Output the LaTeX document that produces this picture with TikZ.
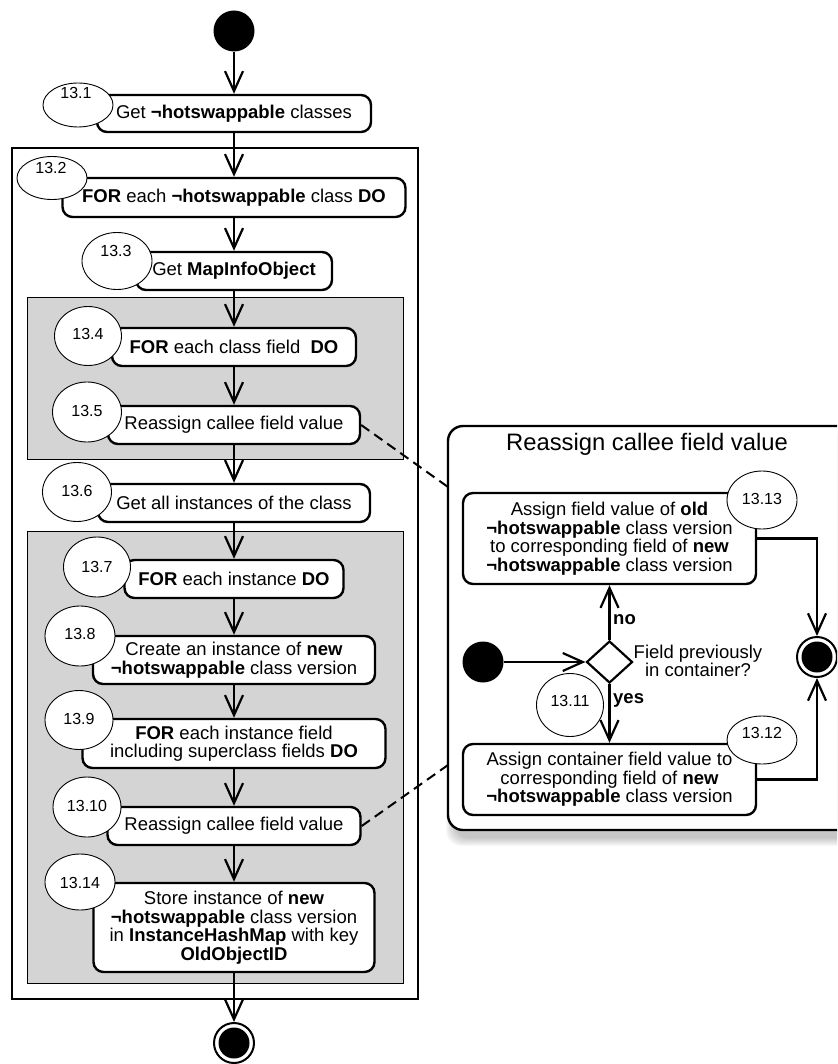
\documentclass[tikz,border=0pt]{standalone}
\usepackage{fontspec}
\setmainfont{Liberation Sans}
\usetikzlibrary{arrows.meta,shapes.geometric}
\definecolor{loopgray}{RGB}{212,212,212}
\begin{document}
\begin{tikzpicture}[x=1pt,y=-1pt,
  txt/.style={font=\fontsize{18.5}{18.5}\selectfont},
  sz/.style 2 args={minimum width=#1pt, minimum height=#2pt},
  box/.style={txt, draw, line width=2.4pt, rounded corners=10pt, fill=white, align=center, inner sep=0pt},
  num/.style={draw, ellipse, line width=0.9pt, fill=white, inner sep=0pt},
  numtxt/.style={font=\fontsize{16}{16}\selectfont, inner sep=0pt},
  flow/.style={line width=2.4pt, -{Straight Barb[length=20pt,width=18pt,line width=2.2pt]}},
  link/.style={line width=2pt, dash pattern=on 10pt off 6pt},
  startdot/.style={circle, fill=black, minimum size=41pt, inner sep=0pt},
  endring/.style={circle, draw, line width=2pt, fill=white, minimum size=40pt, inner sep=0pt},
  enddot/.style={circle, fill=black, minimum size=31pt, inner sep=0pt},
  loopbox/.style={draw, line width=1pt, fill=loopgray},
  decision/.style={diamond, draw, line width=2.2pt, fill=white, inner sep=0pt, minimum width=46pt, minimum height=42pt}]

\useasboundingbox (0,0) rectangle (837,1064);
\clip (0,0) rectangle (837,1064);

% outer loop frame and the two nested loop regions
\draw[line width=1.1pt] (12,148) rectangle (418,999);
\draw[loopbox] (27,297) rectangle (403,459);
\draw[loopbox] (27,531) rectangle (403,983);

% main flow
\node[startdot] (s0) at (234,31) {};
\node[box, sz={274}{37}] (b1) at (234,113.5) {Get \textbf{¬hotswappable} classes};
\node[box, sz={343}{39}] (b2) at (234,197.5) {\textbf{FOR} each \textbf{¬hotswappable} class \textbf{DO}};
\node[box, sz={196}{38}] (b3) at (234,271) {Get \textbf{MapInfoObject}};
\node[box, sz={244}{38}] (b4) at (234,347) {\textbf{FOR} each class field\ \ \textbf{DO}};
\node[box, sz={252}{38}] (b5) at (234,425) {Reassign callee field value};
\node[box, sz={272}{38}] (b6) at (234,503) {Get all instances of the class};
\node[box, sz={219}{38}] (b7) at (234,579) {\textbf{FOR} each instance \textbf{DO}};
\node[box, sz={282}{48}] (b8) at (234,660) {Create an instance of \textbf{new}\\\textbf{¬hotswappable} class version};
\node[box, sz={303}{49}] (b9) at (234,743.5) {\textbf{FOR} each instance field\\including superclass fields \textbf{DO}};
\node[box, sz={253}{38}] (b10) at (234,826) {Reassign callee field value};
\node[box, sz={281}{89}] (b14) at (234,927.5) {Store instance of \textbf{new}\\\textbf{¬hotswappable} class version\\in \textbf{InstanceHashMap} with key\\\textbf{OldObjectID}};
\node[endring] (f1) at (234,1043) {};
\node[enddot] (f1i) at (f1) {};

\draw[flow] (s0) -- (b1.north);
\draw[flow] (b1) -- (b2.north);
\draw[flow] (b2) -- (b3.north);
\draw[flow] (b3) -- (b4.north);
\draw[flow] (b4) -- (b5.north);
\draw[flow] (b5) -- (b6.north);
\draw[flow] (b6) -- (b7.north);
\draw[flow] (b7) -- (b8.north);
\draw[flow] (b8) -- (b9.north);
\draw[flow] (b9) -- (b10.north);
\draw[flow] (b10) -- (b14.north);
\draw[flow] (b14) -- (f1.north);

% step numbers
\node[num, sz={70}{44}] (e1) at (78,105) {};
\node[numtxt] (n1) at (76,93) {13.1};
\node[num, sz={70}{43}] (e2) at (52,178) {};
\node[numtxt] (n2) at (51,168) {13.2};
\node[num, sz={70}{57}] (e3) at (117,261) {};
\node[numtxt] (n3) at (116,251) {13.3};
\node[num, sz={67}{59}] (e4) at (88,336) {};
\node[numtxt] (n4) at (88,334) {13.4};
\node[num, sz={69}{60}] (e5) at (87,412) {};
\node[numtxt] (n5) at (87,411) {13.5};
\node[num, sz={69}{59}] (e6) at (77,492) {};
\node[numtxt] (n6) at (77,491) {13.6};
\node[num, sz={67}{60}] (e7) at (97,567) {};
\node[numtxt] (n7) at (97,567) {13.7};
\node[num, sz={70}{60}] (e8) at (80,636) {};
\node[numtxt] (n8) at (80,634) {13.8};
\node[num, sz={68}{59}] (e9) at (79,720) {};
\node[numtxt] (n9) at (79,719) {13.9};
\node[num, sz={68}{60}] (e10) at (87,807) {};
\node[numtxt] (n10) at (87,806) {13.10};
\node[num, sz={70}{56}] (e14) at (80,882) {};
\node[numtxt] (n14) at (80,883) {13.14};

% detail panel with its soft shadow
\foreach \i in {1,...,9}
  \fill[black, opacity=0.028, rounded corners=15pt] (455-\i,436-\i) rectangle (900+\i,837+\i);
\draw[line width=2.4pt, fill=white, rounded corners=15pt] (448,426) rectangle (900,830);
\node[font=\fontsize{23.8}{24}\selectfont, inner sep=0pt] (ttl) at (647,444) {Reassign callee field value};

\node[box, sz={293}{91}] (b13) at (609.5,538.5) {Assign field value of \textbf{old}\\\textbf{¬hotswappable} class version\\to corresponding field of \textbf{new}\\\textbf{¬hotswappable} class version};
\node[box, sz={293}{71}] (b12) at (609.5,779.5) {Assign container field value to\\corresponding field of \textbf{new}\\\textbf{¬hotswappable} class version};
\node[startdot] (s1) at (483,662) {};
\node[decision] (d) at (609.5,662) {};
\node[txt, align=center, inner sep=0pt] (q) at (698,661) {Field previously\\in container?};
\node[endring] (f2) at (817,657) {};
\node[enddot] (f2i) at (f2) {};

\draw[flow] (s1) -- (d.west);
\draw[flow] (d.north) -- (b13.south);
\draw[flow] (d.south) -- (b12.north);
\draw[flow] (b13.east) -| (f2.north);
\draw[flow] (b12.east) -| (f2.south);
\node[txt, anchor=west, inner sep=0pt] (lno) at (613,620) {\textbf{no}};
\node[txt, anchor=west, inner sep=0pt] (lyes) at (613,700) {\textbf{yes}};

\node[num, sz={70}{58}] (e13) at (762,500) {};
\node[numtxt] (n13) at (762,499) {13.13};
\node[num, sz={67}{63}] (e11) at (570,705) {};
\node[numtxt] (n11) at (570,701) {13.11};
\node[num, sz={70}{48}] (e12) at (762,740) {};
\node[numtxt] (n12) at (762,733) {13.12};

% links from the call sites to the detail panel
\coordinate (p1) at (448,487);
\coordinate (p2) at (448,765);
\draw[link] (b5.east) -- (p1);
\draw[link] (b10.east) -- (p2);
\end{tikzpicture}
\end{document}
